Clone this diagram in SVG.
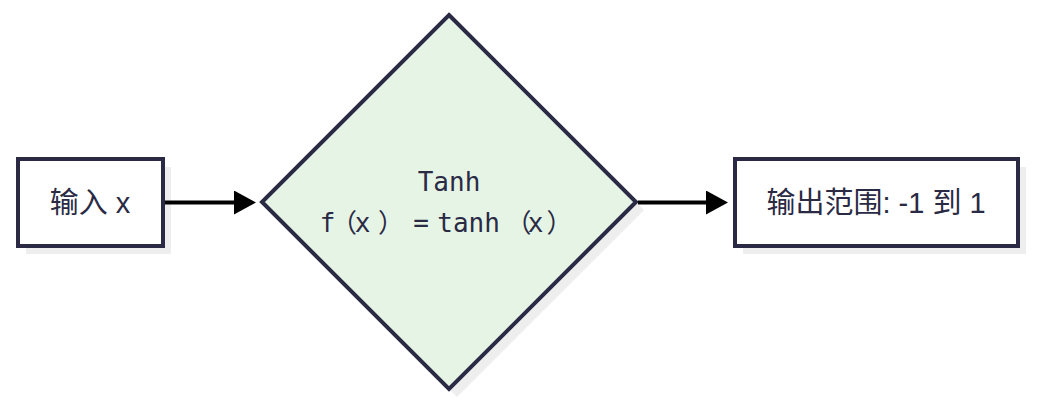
<svg xmlns="http://www.w3.org/2000/svg" width="1037" height="406" viewBox="0 0 1037 406">
<defs>
<style>
.shadow{fill:#eeeeee;stroke:none}
.box{fill:#ffffff;stroke:#2a2a45;stroke-width:4}
.dia{fill:#e6f4e6;stroke:#2a2a45;stroke-width:4}
.lbl{font-family:"Liberation Sans","Noto Sans CJK SC",sans-serif;font-size:29px;fill:#2a2a45;text-anchor:middle}
.mono{font-family:"DejaVu Sans Mono","Noto Sans CJK SC",monospace;font-size:26px;fill:#2a2a45}
.edge{stroke:#000000;stroke-width:4;fill:none}
</style>
<marker id="arrow" markerWidth="6" markerHeight="6" refX="0" refY="3" orient="auto" markerUnits="strokeWidth">
<path d="M0,0 L5.5,3 L0,6 Z" fill="#000000"/>
</marker>
</defs>
<rect width="1037" height="406" fill="#ffffff"/>
<g id="node-input">
<rect class="shadow" x="26" y="167" width="145" height="87"/>
<rect class="box" x="18" y="159" width="145" height="87"/>
<text class="lbl" x="90" y="213">输入 x</text>
</g>
<g id="node-tanh">
<polygon class="shadow" points="457,23 644,210 457,397 270,210"/>
<polygon class="dia" points="449,15 636,202 449,389 262,202"/>
<text class="mono" x="449" y="191" text-anchor="middle">Tanh</text>
<text class="mono" x="319.7" y="232" dx="0 -4.35 -2.3 7.65 9.2 8.35 0 0 0 5.7 -3.8 3.15">f（x）=tanh（x）</text>
</g>
<g id="node-output">
<rect class="shadow" x="743" y="167" width="283" height="87"/>
<rect class="box" x="735" y="159" width="283" height="87"/>
<text class="lbl" x="876" y="213">输出范围: -1 到 1</text>
</g>
<g id="connectors">
<path class="edge" d="M165,202.5 L234,202.5" marker-end="url(#arrow)"/>
<path class="edge" d="M638,202.5 L706,202.5" marker-end="url(#arrow)"/>
</g>
</svg>
